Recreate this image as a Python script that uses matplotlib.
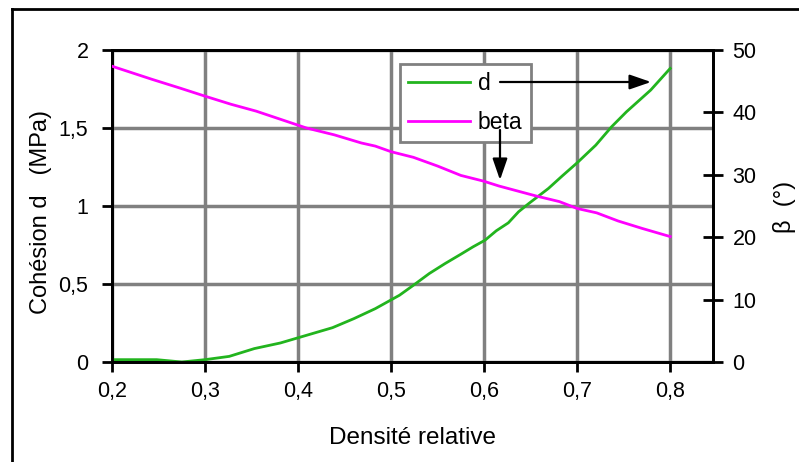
import matplotlib
matplotlib.use("Agg")
import matplotlib.pyplot as plt
from matplotlib.lines import Line2D

plt.rcParams['font.family'] = ['Liberation Sans', 'DejaVu Sans']

# Data
d_x = [0.200, 0.248, 0.275, 0.300, 0.326, 0.353, 0.381, 0.409, 0.437, 0.460,
       0.483, 0.509, 0.524, 0.541, 0.558, 0.575, 0.588, 0.601, 0.613, 0.626,
       0.637, 0.648, 0.669, 0.684, 0.700, 0.720, 0.737, 0.753, 0.779, 0.800]
d_y = [0.015, 0.015, 0.000, 0.015, 0.036, 0.086, 0.122, 0.171, 0.220, 0.278,
       0.342, 0.428, 0.492, 0.567, 0.631, 0.691, 0.738, 0.781, 0.841, 0.892,
       0.963, 1.016, 1.112, 1.193, 1.277, 1.390, 1.508, 1.604, 1.743, 1.882]

beta_x = [0.200, 0.243, 0.273, 0.300, 0.328, 0.355, 0.381, 0.409, 0.439, 0.468,
          0.483, 0.500, 0.524, 0.550, 0.575, 0.599, 0.616, 0.631, 0.656, 0.681,
          0.700, 0.721, 0.744, 0.770, 0.800]
beta_y = [47.4, 45.3, 43.9, 42.6, 41.3, 40.2, 38.9, 37.5, 36.4, 35.1,
          34.6, 33.7, 32.8, 31.4, 29.9, 29.0, 28.2, 27.6, 26.6, 25.7,
          24.6, 23.9, 22.6, 21.4, 20.1]

x_ticks = [0.2, 0.3, 0.4, 0.5, 0.6, 0.7, 0.8]
x_ticklabels = ['0,2', '0,3', '0,4', '0,5', '0,6', '0,7', '0,8']
yl_ticks = [0, 0.5, 1, 1.5, 2]
yl_ticklabels = ['0', '0,5', '1', '1,5', '2']
yr_ticks = [0, 10, 20, 30, 40, 50]
yr_ticklabels = ['0', '10', '20', '30', '40', '50']

GREEN = '#22b41e'
MAGENTA = '#ff00ff'
GRID = '#808080'
FS = 15.5

fig = plt.figure(figsize=(7.99, 4.62), dpi=100)
ax = fig.add_axes([112/799, 1-362/462, (713-112)/799, 312/462])
ax2 = ax.twinx()

ax.set_xlim(0.2, 0.846)
ax.set_ylim(0, 2)
ax2.set_ylim(0, 50)

ax.set_xticks(x_ticks)
ax.set_xticklabels(x_ticklabels)
ax.set_yticks(yl_ticks)
ax.set_yticklabels(yl_ticklabels)
ax2.set_yticks(yr_ticks)
ax2.set_yticklabels(yr_ticklabels)

ax.grid(True, color=GRID, linewidth=2.5)
ax.set_axisbelow(True)

for a in (ax, ax2):
    for s in a.spines.values():
        s.set_linewidth(2)
        s.set_color('black')

ax.tick_params(axis='y', direction='out', length=7, width=2, pad=10, labelsize=FS)
ax.tick_params(axis='x', direction='out', length=7, width=2, pad=7, labelsize=FS)
ax2.tick_params(axis='y', direction='inout', length=14, width=2, pad=7, labelsize=FS)

l1, = ax.plot(d_x, d_y, color=GREEN, linewidth=2, label='d', zorder=3)
l2, = ax2.plot(beta_x, beta_y, color=MAGENTA, linewidth=2, label='beta', zorder=3)

ax.set_xlabel('Densité relative', fontsize=17.5, labelpad=18)

fig.text(41/799, 1-212/462, 'Cohésion d   (MPa)', rotation=90, ha='center', va='center',
         fontsize=17)
fig.text(784/799, 1-207/462, 'β  (°)', rotation=90, ha='center', va='center',
         fontsize=17)

# legend
leg = ax.legend(handles=[l1, l2], loc='upper left',
                bbox_to_anchor=((400-112)/601, 1-(64-50)/312),
                fontsize=16.5, frameon=True, fancybox=False, handlelength=2.7,
                borderpad=0.35, labelspacing=0.7, handletextpad=0.35,
                borderaxespad=0)
leg.get_frame().set_edgecolor(GRID)
leg.get_frame().set_linewidth(2)
leg.get_frame().set_alpha(1)
leg.set_zorder(5)

# arrows (figure pixel coordinates)
def px(x, y):
    return (x/799, 1-y/462)

arr = dict(arrowstyle='-|>,head_length=1.3,head_width=0.45', color='black', lw=1.6,
           shrinkA=0, shrinkB=0)
ax.annotate('', xy=px(651, 82), xytext=px(500, 82), xycoords='figure fraction',
            textcoords='figure fraction', arrowprops=arr, zorder=6)
ax.annotate('', xy=px(500, 180), xytext=px(500, 130), xycoords='figure fraction',
            textcoords='figure fraction', arrowprops=arr, zorder=6)

# outer border (left and top only)
fig.add_artist(Line2D([12/799, 12/799], [0, 1-9/462], color='black', lw=2,
                      transform=fig.transFigure))
fig.add_artist(Line2D([12/799, 1], [1-9/462, 1-9/462], color='black', lw=2,
                      transform=fig.transFigure))

fig.savefig('out.png', dpi=100)
